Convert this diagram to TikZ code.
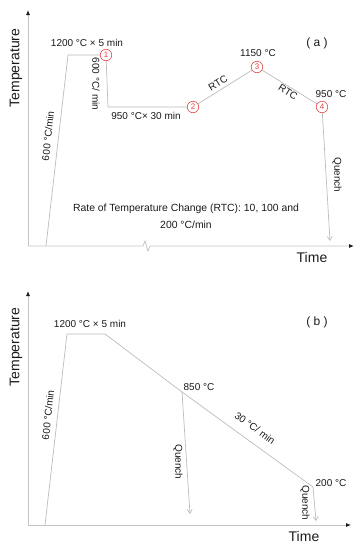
\documentclass[tikz,border=0pt]{standalone}
\usepackage{fontspec}
\setmainfont{Liberation Sans}
\usetikzlibrary{arrows.meta,positioning,calc}
\definecolor{ink}{HTML}{1A1A1A}
\definecolor{axisline}{HTML}{C4C4C4}
\definecolor{curve}{HTML}{BCBCBC}
\definecolor{stagered}{HTML}{E2474B}

\begin{document}
\begin{tikzpicture}[
  x=1pt, y=-1pt, color=ink, font=\fontsize{10}{12}\selectfont,
  axis/.style={draw=axisline, line width=0.8pt, -{Latex[length=5pt, width=4pt, color=ink]}},
  profile/.style={draw=curve, line width=0.7pt},
  quench/.style={profile, -{Straight Barb[length=4pt, width=5pt]}},
  stage/.style={circle, draw=stagered, text=stagered, line width=0.6pt, inner sep=0pt,
                minimum size=11.5pt, font=\fontsize{8}{8}\selectfont},
  axlbl/.style={font=\fontsize{14}{16}\selectfont},
  tag/.style={font=\fontsize{12}{14}\selectfont},
]
\useasboundingbox (0,0) rectangle (361,550);

% ---- panel (a) ----
% axes
\coordinate (aO) at (28,246);
\coordinate (aY) at (28,10);
\coordinate (aX) at (354,246);
\draw[axis] (aO) -- (aY);
\draw[axis] (aO) -- ++(115,0) -- ++(2,-5) -- ++(3,10) -- ++(2,-5) -- (aX);
\node[axlbl, rotate=90] (aTemp) at (16,68) {Temperature};
\node[axlbl] (aTime) at (312,257) {Time};

% stages
\coordinate (aStart) at (46,246);
\coordinate (aTop) at (68,55);
\node[stage] (s1) at (106,55) {1};
\coordinate (aHold) at (108,107);
\node[stage] (s2) at (193,107) {2};
\node[stage] (s3) at (257,67) {3};
\node[stage] (s4) at (322,107) {4};
\coordinate (aEnd) at (330,241);

% profile
\draw[profile] (aStart) -- (aTop) -- (s1);
\draw[profile] (s1) -- (aHold) -- (s2);
\draw[profile] (s2) -- (s3);
\draw[profile] (s3) -- (s4);
\draw[quench] (s4) -- (aEnd);

% labels
\node (aSoak) at (87,43) {1200 °C × 5 min};
\node[rotate=84] (aHeat) at (48,136) {600 °C/min};
\node[rotate=-90] (aCool) at (96,84) {600 °C/ min};
\node (aHoldLbl) at (146,116) {950 °C× 30 min};
\node[rotate=32] (aUp) at (218,83) {RTC};
\node (aPeak) at (258,53) {1150 °C};
\node[rotate=-32] (aDown) at (288,92) {RTC};
\node (aLow) at (331,94) {950 °C};
\node[tag] (aTag) at (317,43) {( a )};
\node[rotate=-90] (aQuench) at (337,175) {Quench};
\node[align=center, font=\fontsize{10.4}{17}\selectfont] (aNote) at (186,216)
  {Rate of Temperature Change (RTC): 10, 100 and\\200 °C/min};

% ---- panel (b) ----
% axes
\coordinate (bO) at (28,525);
\coordinate (bY) at (28,291);
\coordinate (bX) at (351,525);
\draw[axis] (bO) -- (bY);
\draw[axis] (bO) -- (bX);
\node[axlbl, rotate=90] (bTemp) at (16,347) {Temperature};
\node[axlbl] (bTime) at (304,536) {Time};

% profile
\coordinate (bStart) at (45,525);
\coordinate (bTop) at (67,334);
\coordinate (bSoak) at (105,334);
\coordinate (bMid) at (182,392);
\coordinate (bLow) at (313,487);
\coordinate (bEnd1) at (190,514);
\coordinate (bEnd2) at (316,521);
\draw[profile] (bStart) -- (bTop) -- (bSoak) -- (bMid) -- (bLow);
\draw[quench] (bMid) -- (bEnd1);
\draw[quench] (bLow) -- (bEnd2);

% labels
\node (bSoakLbl) at (90,324) {1200 °C × 5 min};
\node[rotate=84] (bHeat) at (48,415) {600 °C/min};
\node (bMidLbl) at (199,387) {850 °C};
\node[rotate=-36] (bCool) at (255,428) {30 °C/ min};
\node[rotate=-90] (bQuench1) at (178,462) {Quench};
\node[rotate=-90] (bQuench2) at (305,503) {Quench};
\node (bLowLbl) at (331,483) {200 °C};
\node[tag] (bTag) at (317,322) {( b )};
\end{tikzpicture}
\end{document}
